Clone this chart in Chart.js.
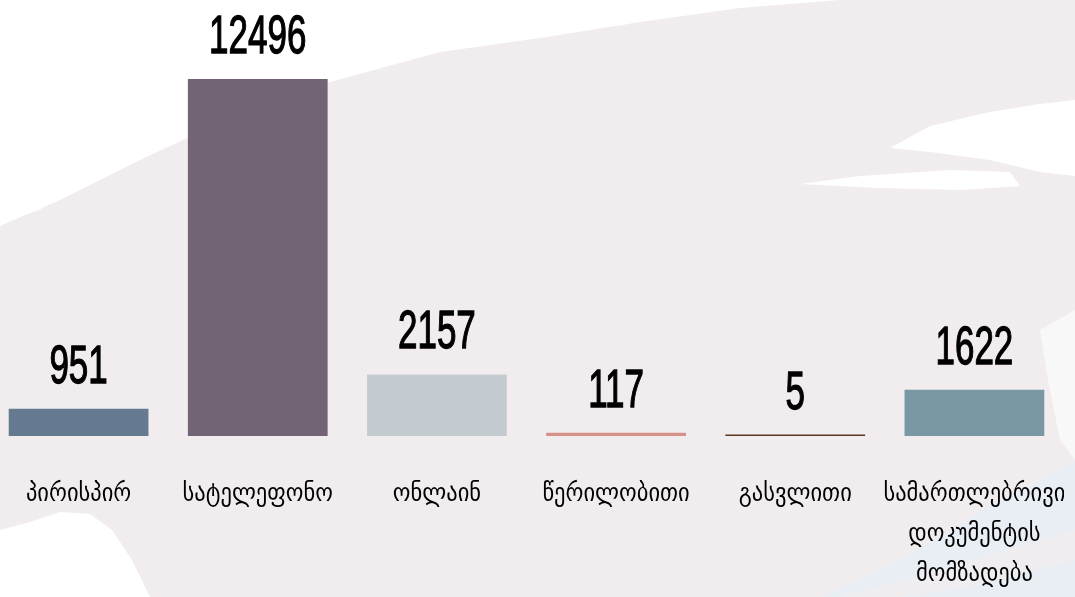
<!DOCTYPE html>
<html lang="ka">
<head>
<meta charset="utf-8">
<script src="https://cdn.jsdelivr.net/npm/chart.js@4"></script>
<style>
    html, body { margin: 0; padding: 0; }
    body { width: 1075px; height: 597px; overflow: hidden; position: relative; background: #ffffff; }
    #bg { position: absolute; left: 0; top: 0; }
    #wrap { position: absolute; left: -11px; top: 0; width: 1075px; height: 597px; }
</style>
</head>
<body>
<!-- brush-stroke backdrop -->
<svg id="bg" width="1075" height="597" viewBox="0 0 1075 597">
    <rect width="1075" height="597" fill="#ffffff"/>
    <path fill="#f1edee" d="M0 226 L60 200 L140 160 L230 118 L330 82 L440 52 L540 38 L640 22 L740 8 L840 0 L1075 0 L1075 100
        L1040 104 L990 112 L930 126 L890 148 L930 152 L990 160 L1040 172 L1075 176 L1075 597 L150 597 L132 560 L112 530 L90 514 L60 512 L30 522 L0 530 Z"/>
    <path fill="#ffffff" d="M800 184 L860 176 L950 170 L1010 172 L1020 186 L960 190 L880 188 Z"/>
    <path fill="#ffffff" d="M1040 330 L1075 310 L1075 460 L1060 440 L1048 380 Z" opacity="0.6"/>
    <path fill="#ffffff" d="M0 200 L90 170 L40 210 L0 222 Z" opacity="0.7"/>
    <path fill="#ffffff" d="M560 20 L700 4 L620 26 Z" opacity="0.8"/>
    <path fill="#e9eef5" d="M820 597 L900 560 L1000 500 L1075 462 L1075 597 Z"/>
    <path fill="#f1edee" d="M840 597 L940 570 L1040 540 L1075 530 L1075 560 L980 585 L900 597 Z" opacity="0.7"/>
</svg>
<div id="wrap"><canvas id="chart"></canvas></div>
<script>
// categories and counts
const categories = [
    'პირისპირ',
    'სატელეფონო',
    'ონლაინ',
    'წერილობითი',
    'გასვლითი',
    ['სამართლებრივი', 'დოკუმენტის', 'მომზადება'],
];
const counts = [951, 12496, 2157, 117, 5, 1622];
const barColors = ['#657a90', '#726475', '#c3cbd1', '#d49386', '#5e3420', '#7a98a3'];

// value labels above each bar, drawn in a narrow face
const valueLabels = {
    id: 'valueLabels',
    afterDatasetsDraw(chart) {
        const ctx = chart.ctx;
        const meta = chart.getDatasetMeta(0);
        ctx.save();
        ctx.fillStyle = '#000000';
        ctx.strokeStyle = '#000000';
        ctx.lineWidth = 1.3;
        ctx.font = '53px "Liberation Sans", Arial, sans-serif';
        ctx.textAlign = 'center';
        ctx.textBaseline = 'alphabetic';
        meta.data.forEach((bar, i) => {
            ctx.save();
            ctx.translate(bar.x, bar.y - 26);
            ctx.scale(0.66, 1);
            ctx.fillText(String(counts[i]), 0, 0);
            ctx.strokeText(String(counts[i]), 0, 0);
            ctx.restore();
        });
        ctx.restore();
    },
};

const ctx = document.getElementById('chart').getContext('2d');
new Chart(ctx, {
    type: 'bar',
    data: {
        labels: categories,
        datasets: [
            {
                data: counts,
                backgroundColor: barColors,
                borderWidth: 0,
                barPercentage: 0.78,
                categoryPercentage: 1,
                minBarLength: 1.5,
            },
        ],
    },
    options: {
        responsive: true,
        maintainAspectRatio: false,
        animation: false,
        layout: { padding: { top: 79, bottom: 3, left: 0, right: 0 } },
        scales: {
            x: {
                grid: { display: false, drawTicks: false },
                border: { display: false },
                afterFit: scale => {
                    // keep the axis band to the label block and let the long label overhang
                    scale.height = 158;
                    scale.paddingLeft = 0;
                    scale.paddingRight = 0;
                },
                ticks: {
                    color: '#000000',
                    padding: 38,
                    autoSkip: false,
                    maxRotation: 0,
                    minRotation: 0,
                    font: { family: '"DejaVu Sans Condensed", "DejaVu Sans", sans-serif', size: 25, weight: 'normal', lineHeight: 1.6 },
                },
            },
            y: {
                display: false,
                min: 0,
                max: Math.max(...counts),
            },
        },
        plugins: {
            legend: { display: false },
            tooltip: { enabled: false },
        },
    },
    plugins: [valueLabels],
});
</script>
</body>
</html>
